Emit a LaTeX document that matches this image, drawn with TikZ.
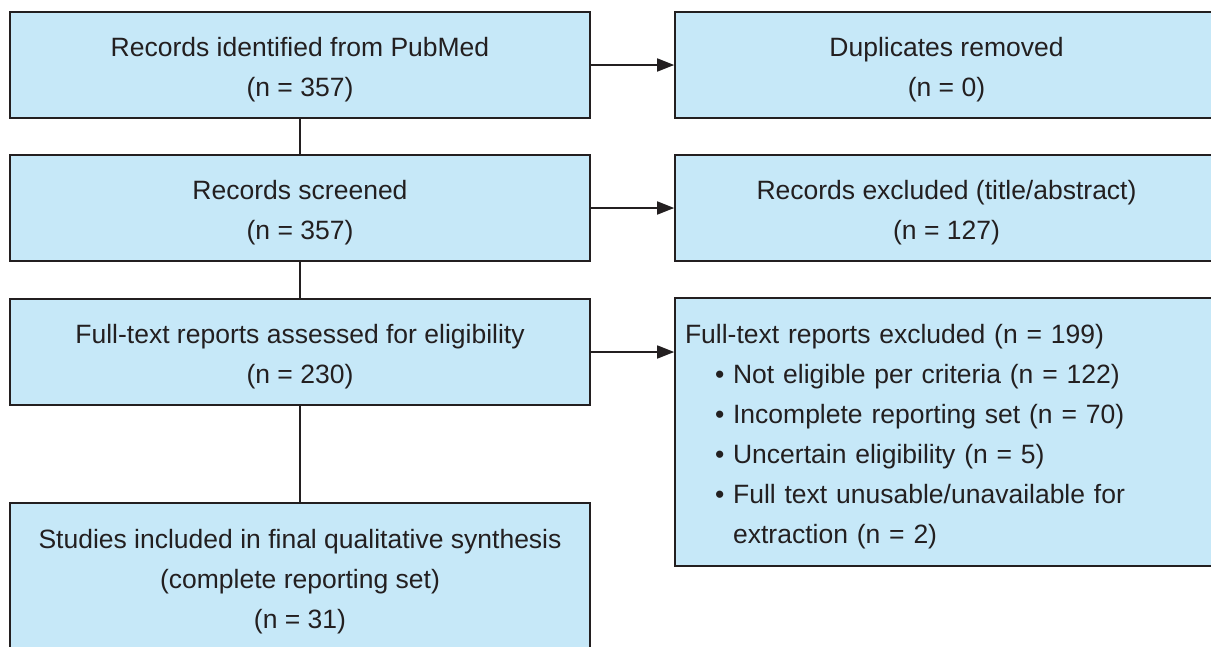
\documentclass[tikz,border=0pt]{standalone}
\usepackage{fontspec}
\setmainfont{Liberation Sans}
\usetikzlibrary{arrows.meta}
\definecolor{boxfill}{HTML}{C6E8F8}
\definecolor{ink}{HTML}{231F20}
% taller first line, so the text sits slightly below the box centre
\newcommand{\leadstrut}{\rule{0pt}{29pt}}
\tikzset{
  flowbox/.style={draw=ink, fill=boxfill, line width=1.6pt, rectangle,
    text=ink, font=\fontsize{26.5}{40}\selectfont, align=center, inner sep=0pt},
  link/.style={draw=ink, line width=1.6pt},
  flowarrow/.style={link, -{Triangle[length=17pt,width=13pt]}}
}
\begin{document}
\begin{tikzpicture}[x=1pt,y=-1pt]
\useasboundingbox (0,0) rectangle (1211,646);
\clip (0,0) rectangle (1211,646);
\fill[white] (0,0) rectangle (1211,646);

% left column
\node[flowbox, minimum width=580pt, minimum height=106pt] (ident) at (300,65)
  {\leadstrut Records identified from PubMed\\(n = 357)};
\node[flowbox, minimum width=580pt, minimum height=106pt] (screen) at (300,208)
  {\leadstrut Records screened\\(n = 357)};
\node[flowbox, minimum width=580pt, minimum height=106pt] (full) at (300,352)
  {\leadstrut Full-text reports assessed for eligibility\\(n = 230)};
\node[flowbox, minimum width=580pt, minimum height=148pt] (incl) at (300,577)
  {\leadstrut Studies included in final qualitative synthesis\\(complete reporting set)\\(n = 31)};

% right column
\node[flowbox, minimum width=543pt, minimum height=106pt] (dup) at (946.5,65)
  {\leadstrut Duplicates removed\\(n = 0)};
\node[flowbox, minimum width=543pt, minimum height=106pt] (excl) at (946.5,208)
  {\leadstrut Records excluded (title/abstract)\\(n = 127)};
\node[flowbox, minimum width=543pt, minimum height=268pt, text width=523pt,
      align=left] (ftexcl) at (946.5,432)
  {\leadstrut Full-text reports excluded (n = 199)\\
   \hspace*{30pt}\textbullet\ Not eligible per criteria (n = 122)\\
   \hspace*{30pt}\textbullet\ Incomplete reporting set (n = 70)\\
   \hspace*{30pt}\textbullet\ Uncertain eligibility (n = 5)\\
   \hspace*{30pt}\textbullet\ Full text unusable/unavailable for\\
   \hspace*{30pt}\phantom{\textbullet}\ extraction (n = 2)};

% connectors
\draw[link] (ident.south) -- (screen.north);
\draw[link] (screen.south) -- (full.north);
\draw[link] (full.south) -- (incl.north);
\draw[flowarrow] (ident.east) -- (dup.west);
\draw[flowarrow] (screen.east) -- (excl.west);
\draw[flowarrow] (full.east) -- (full.east -| ftexcl.west);
\end{tikzpicture}
\end{document}
